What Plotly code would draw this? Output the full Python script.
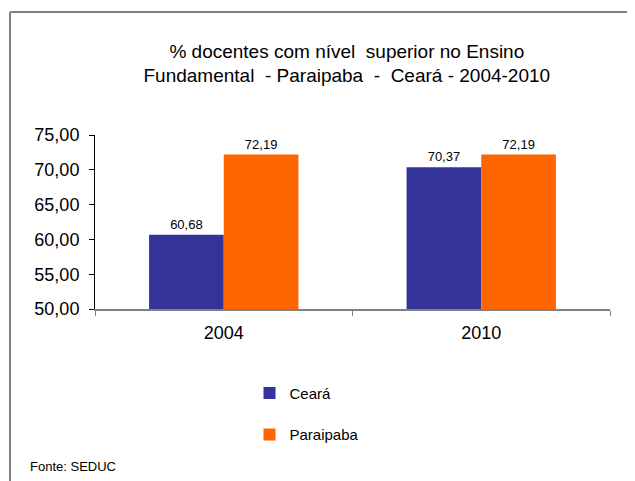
import plotly.graph_objects as go

categories = ["2004", "2010"]
ceara = [60.68, 70.37]
paraipaba = [72.19, 72.19]
series_names = ["Ceará", "Paraipaba"]
colors = ["#333399", "#FF6600"]
title_lines = ["% docentes com nível  superior no Ensino", "Fundamental  - Paraipaba  -  Ceará - 2004-2010"]
y_ticks = [50, 55, 60, 65, 70, 75]
source = "Fonte: SEDUC"

FONT = "Liberation Sans, Arial"

def fmt(v):
    return f"{v:.2f}".replace(".", ",")

fig = go.Figure()
for i, (name, vals) in enumerate(zip(series_names, [ceara, paraipaba])):
    fig.add_trace(go.Bar(
        x=categories, y=vals, name=name,
        marker=dict(color=colors[i], line=dict(width=0)),
        text=[fmt(v) for v in vals], textposition="outside",
        textfont=dict(size=13, color="#000000", family=FONT),
        cliponaxis=False, legendgroup=f"g{i}",
    ))

# page body has an 8px margin: positions are compensated
fig.update_layout(
    width=635, height=481,
    margin=dict(l=87, r=33, t=127, b=180),
    paper_bgcolor="white", plot_bgcolor="white",
    separators=",.",
    barmode="group", bargap=0.42, bargroupgap=0,
    font=dict(family=FONT, color="#000000"),
    title=dict(text="<br>".join(title_lines), x=0.489, xref="paper", xanchor="center",
               y=0.897, yanchor="middle", yref="container",
               font=dict(size=19, family=FONT, color="#000000")),
    showlegend=True,
    legend=dict(x=0.3, xanchor="left", y=-0.39, yanchor="top",
                orientation="v", tracegroupgap=19,
                font=dict(size=15, family=FONT, color="#000000"),
                bgcolor="rgba(0,0,0,0)"),
)
fig.update_yaxes(range=[50, 75], tickvals=y_ticks, tickformat=".2f",
                 showgrid=False, zeroline=False,
                 showline=True, linecolor="#000000", linewidth=1,
                 ticks="outside", ticklen=5, tickcolor="#000000",
                 ticklabelstandoff=6,
                 tickfont=dict(size=18, family=FONT, color="#000000"))
fig.update_xaxes(showgrid=False, showline=True, linecolor="#808080", linewidth=2,
                 ticks="outside", tickson="boundaries", ticklen=5, tickcolor="#808080",
                 ticklabelstandoff=6,
                 tickfont=dict(size=18, family=FONT, color="#000000"))

# outer border (left and top)
fig.add_shape(type="line", xref="paper", yref="paper", x0=-0.165, x1=-0.165, y0=1.707, y1=-1.2,
              line=dict(color="#808080", width=2))
fig.add_shape(type="line", xref="paper", yref="paper", x0=-0.165, x1=1.2, y0=1.707, y1=1.707,
              line=dict(color="#808080", width=2))

fig.add_annotation(text=source, xref="paper", yref="paper", x=-0.13, y=-0.905,
                   xanchor="left", yanchor="middle", showarrow=False,
                   font=dict(size=13, family=FONT, color="#000000"))

fig.write_html("out.html")
